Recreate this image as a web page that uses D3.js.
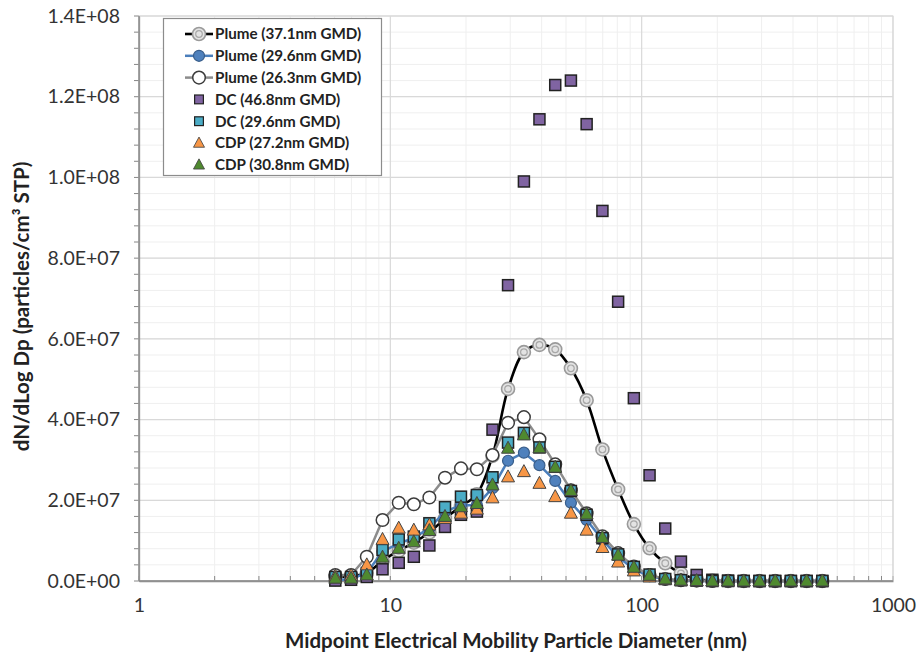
<!DOCTYPE html>
<html>
<head>
<meta charset="utf-8">
<script src="https://cdn.jsdelivr.net/npm/d3@7"></script>
<style>
  html, body { margin: 0; padding: 0; background: #fff; }
  svg { display: block; }
</style>
</head>
<body>
<svg id="chart" width="918" height="656"></svg>
<script>
// ---- Data (values in units of 1e7 particles/cm3 STP) ----
const UNIT = 1e7;
const diameters = [6.04, 6.98, 8.06, 9.31, 10.8, 12.4, 14.3, 16.5, 19.1, 22.1, 25.5, 29.4, 34.0, 39.2, 45.3, 52.3,
  60.4, 69.8, 80.6, 93.1, 107.5, 124.1, 143.3, 165.5, 191.1, 220.7, 254.8, 294.3, 339.8, 392.4, 453.2, 523.3];

const plume371 = [0.10, 0.12, 0.20, 0.50, 0.75, 0.95, 1.20, 1.55, 1.85, 2.15, 3.10, 4.76, 5.67, 5.85, 5.74, 5.27,
  4.48, 3.26, 2.27, 1.41, 0.81, 0.44, 0.19, 0.05, 0.01, 0, 0, 0, 0, 0, 0, 0];
const plume296 = [0.02, 0.05, 0.20, 0.73, 0.93, 1.07, 1.31, 1.72, 1.88, 1.88, 2.30, 2.98, 3.18, 2.87, 2.48, 1.94,
  1.51, 1.02, 0.60, 0.29, 0.12, 0.04, 0.01, 0, 0, 0, 0, 0, 0, 0, 0, 0];
const plume263 = [0.15, 0.15, 0.60, 1.51, 1.94, 1.90, 2.07, 2.56, 2.79, 2.77, 3.12, 3.92, 4.06, 3.51, 2.89, 2.25,
  1.68, 1.11, 0.69, 0.36, 0.15, 0.05, 0.02, 0.01, 0, 0, 0, 0, 0, 0, 0, 0];
const dc468 = [0.01, 0.03, 0.10, 0.29, 0.45, 0.60, 0.88, 1.34, 1.64, 1.72, 3.75, 7.33, 9.90, 11.44, 12.29, 12.40,
  11.32, 9.17, 6.92, 4.53, 2.62, 1.30, 0.48, 0.15, 0.03, 0.01, 0, 0, 0, 0, 0, 0];
const dc296 = [0.10, 0.10, 0.20, 0.77, 1.03, 1.10, 1.43, 1.83, 2.09, 2.13, 2.57, 3.43, 3.67, 3.31, 2.83, 2.23,
  1.64, 1.06, 0.66, 0.35, 0.16, 0.05, 0.02, 0.01, 0, 0, 0, 0, 0, 0, 0, 0];
const cdp272 = [0.12, 0.14, 0.40, 1.03, 1.31, 1.26, 1.39, 1.55, 1.68, 1.78, 2.06, 2.58, 2.71, 2.42, 2.09, 1.68,
  1.26, 0.83, 0.47, 0.25, 0.10, 0.04, 0.01, 0, 0, 0, 0, 0, 0, 0, 0, 0];
const cdp308 = [0.07, 0.07, 0.15, 0.59, 0.81, 0.97, 1.25, 1.60, 1.84, 1.92, 2.38, 3.29, 3.62, 3.30, 2.82, 2.24,
  1.66, 1.08, 0.64, 0.34, 0.14, 0.05, 0.02, 0.01, 0, 0, 0, 0, 0, 0, 0, 0];

const seriesNames = ["Plume (37.1nm GMD)", "Plume (29.6nm GMD)", "Plume (26.3nm GMD)", "DC (46.8nm GMD)",
  "DC (29.6nm GMD)", "CDP (27.2nm GMD)", "CDP (30.8nm GMD)"];
const xTickValues = [1, 10, 100, 1000];
const yTickValues = [0, 2e7, 4e7, 6e7, 8e7, 1e8, 1.2e8, 1.4e8];
const xTitle = "Midpoint Electrical Mobility Particle Diameter (nm)";
const yTitle = "dN/dLog Dp (particles/cm³ STP)";

(function () {
// ---- Series styling ----
const series = [
  { name: seriesNames[0], values: plume371, line: "#000000", lineWidth: 2.6, smooth: true, marker: "dcircle" },
  { name: seriesNames[1], values: plume296, line: "#4a7ebb", lineWidth: 2.5, smooth: false, marker: "bcircle" },
  { name: seriesNames[2], values: plume263, line: "#8c8c8c", lineWidth: 2.5, smooth: false, marker: "ocircle" },
  { name: seriesNames[3], values: dc468, line: null, marker: "square", fill: "#8064a2" },
  { name: seriesNames[4], values: dc296, line: null, marker: "square", fill: "#4bacc6" },
  { name: seriesNames[5], values: cdp272, line: null, marker: "triangle", fill: "#f79646" },
  { name: seriesNames[6], values: cdp308, line: null, marker: "triangle", fill: "#4f8a2f" }
];

// ---- Layout ----
const svg = d3.select("#chart");
const pL = 139, pR = 893, pT = 16, pB = 581;
const x = d3.scaleLog().domain([1, 1000]).range([pL, pR]);
const y = d3.scaleLinear().domain([0, 1.4e8]).range([pB, pT]);
const font = "Lato, 'Open Sans', sans-serif";

// grid
const g = svg.append("g");
const yMinor = d3.range(0, 1.4e8 + 1, 4e6);
g.selectAll(".ymin").data(yMinor).enter().append("line")
  .attr("x1", pL).attr("x2", pR).attr("y1", d => y(d)).attr("y2", d => y(d))
  .attr("stroke", "#efefef").attr("stroke-width", 1);
const xMinor = [];
[1, 10, 100].forEach(dec => { for (let k = 2; k <= 9; k++) xMinor.push(dec * k); });
g.selectAll(".xmin").data(xMinor).enter().append("line")
  .attr("x1", d => x(d)).attr("x2", d => x(d)).attr("y1", pT).attr("y2", pB)
  .attr("stroke", "#efefef").attr("stroke-width", 1);
g.selectAll(".ymaj").data(yTickValues).enter().append("line")
  .attr("x1", pL).attr("x2", pR).attr("y1", d => y(d)).attr("y2", d => y(d))
  .attr("stroke", "#d9d9d9").attr("stroke-width", 1.2);
g.selectAll(".xmaj").data(xTickValues).enter().append("line")
  .attr("x1", d => x(d)).attr("x2", d => x(d)).attr("y1", pT).attr("y2", pB)
  .attr("stroke", "#d9d9d9").attr("stroke-width", 1.2);

// axes
function sci(v) {
  if (v === 0) return "0.0E+00";
  const e = Math.floor(Math.log10(v) + 1e-9);
  const m = v / Math.pow(10, e);
  return m.toFixed(1) + "E+" + String(e).padStart(2, "0");
}
const yAxis = d3.axisLeft(y).tickValues(yTickValues).tickFormat(sci).tickSize(0).tickPadding(19);
const yg = svg.append("g").attr("transform", `translate(${pL},0)`).call(yAxis);
yg.select(".domain").attr("stroke", "#868686").attr("stroke-width", 1.3);
yg.selectAll("text").attr("font-family", font).attr("font-size", 19.5).attr("fill", "#333");

const xAxis = d3.axisBottom(x).tickValues(xTickValues).tickFormat(d3.format("d")).tickSize(0).tickPadding(17);
const xg = svg.append("g").attr("transform", `translate(0,${pB})`).call(xAxis);
xg.select(".domain").attr("stroke", "#868686").attr("stroke-width", 1.3);
xg.selectAll("text").attr("font-family", font).attr("font-size", 19.5).attr("fill", "#333");

// minor tick marks
svg.append("g").selectAll("line").data(yMinor).enter().append("line")
  .attr("x1", pL - 5).attr("x2", pL).attr("y1", d => y(d)).attr("y2", d => y(d))
  .attr("stroke", "#868686");
svg.append("g").selectAll("line").data(xMinor.concat(xTickValues)).enter().append("line")
  .attr("x1", d => x(d)).attr("x2", d => x(d)).attr("y1", pB).attr("y2", pB - 5)
  .attr("stroke", "#868686");
// plot border
svg.append("rect").attr("x", pL).attr("y", pT).attr("width", pR - pL).attr("height", pB - pT)
  .attr("fill", "none").attr("stroke", "#d9d9d9").attr("stroke-width", 1);
svg.append("line").attr("x1", pL).attr("x2", pL).attr("y1", pT).attr("y2", pB).attr("stroke", "#868686").attr("stroke-width", 1.3);
svg.append("line").attr("x1", pL).attr("x2", pR).attr("y1", pB).attr("y2", pB).attr("stroke", "#868686").attr("stroke-width", 1.3);

// titles
svg.append("text").attr("x", 516).attr("y", 648).attr("text-anchor", "middle")
  .attr("font-family", font).attr("font-weight", 700).attr("font-size", 20.5).attr("fill", "#222").text(xTitle);
svg.append("text").attr("transform", `translate(29,${(pT + pB) / 2 + 8}) rotate(-90)`).attr("text-anchor", "middle")
  .attr("font-family", font).attr("font-weight", 700).attr("font-size", 20.5).attr("fill", "#222").text(yTitle);

// markers
function drawMarker(sel, type, fill) {
  if (type === "dcircle") {
    sel.append("circle").attr("r", 6.5).attr("fill", "#e3e3e3").attr("stroke", "#9a9a9a").attr("stroke-width", 1.6);
    sel.append("circle").attr("r", 3.3).attr("fill", "none").attr("stroke", "#a8a8a8").attr("stroke-width", 1.2);
  } else if (type === "bcircle") {
    sel.append("circle").attr("r", 5.5).attr("fill", "#4f81bd").attr("stroke", "#385d8a").attr("stroke-width", 1.2);
  } else if (type === "ocircle") {
    sel.append("circle").attr("r", 6.3).attr("fill", "#ffffff").attr("stroke", "#3c3c3c").attr("stroke-width", 1.5);
  } else if (type === "square") {
    sel.append("rect").attr("x", -5.5).attr("y", -5.5).attr("width", 11).attr("height", 11)
      .attr("fill", fill).attr("stroke", "#222").attr("stroke-width", 1.5);
  } else if (type === "triangle") {
    sel.append("path").attr("d", "M0,-7L6.5,5L-6.5,5Z")
      .attr("fill", fill).attr("stroke", "#444").attr("stroke-width", 1);
  }
}

const plot = svg.append("g");
series.forEach(s => {
  const pts = diameters.map((d, i) => ({ d, v: s.values[i] * UNIT }));
  const sg = plot.append("g");
  if (s.line) {
    const lineGen = d3.line().x(p => x(p.d)).y(p => y(p.v))
      .curve(s.smooth ? d3.curveCatmullRom.alpha(0.5) : d3.curveLinear);
    sg.append("path").datum(pts).attr("d", lineGen).attr("fill", "none")
      .attr("stroke", s.line).attr("stroke-width", s.lineWidth).attr("stroke-linejoin", "round");
  }
  sg.selectAll(".m").data(pts).enter().append("g")
    .attr("transform", p => `translate(${x(p.d)},${y(p.v)})`)
    .each(function () { drawMarker(d3.select(this), s.marker, s.fill); });
});

// legend
const lg = svg.append("g");
lg.append("rect").attr("x", 163.5).attr("y", 18.5).attr("width", 218).attr("height", 157)
  .attr("fill", "#fff").attr("stroke", "#8c8c8c").attr("stroke-width", 1.2);
series.forEach((s, i) => {
  const cy = 34 + i * 21.8;
  const row = lg.append("g");
  if (s.line) {
    row.append("line").attr("x1", 185).attr("x2", 213).attr("y1", cy).attr("y2", cy)
      .attr("stroke", s.line).attr("stroke-width", s.lineWidth);
  }
  const m = row.append("g").attr("transform", `translate(199,${cy})`);
  drawMarker(m, s.marker, s.fill);
  if (s.marker === "square") m.attr("transform", `translate(199,${cy}) scale(0.8)`);
  if (s.marker === "triangle") m.attr("transform", `translate(199,${cy}) scale(0.85)`);
  row.append("text").attr("x", 215).attr("y", cy).attr("dy", "0.35em")
    .attr("font-family", font).attr("font-weight", 700).attr("font-size", 15.2).attr("fill", "#222").text(s.name);
});
})();
</script>
</body>
</html>
